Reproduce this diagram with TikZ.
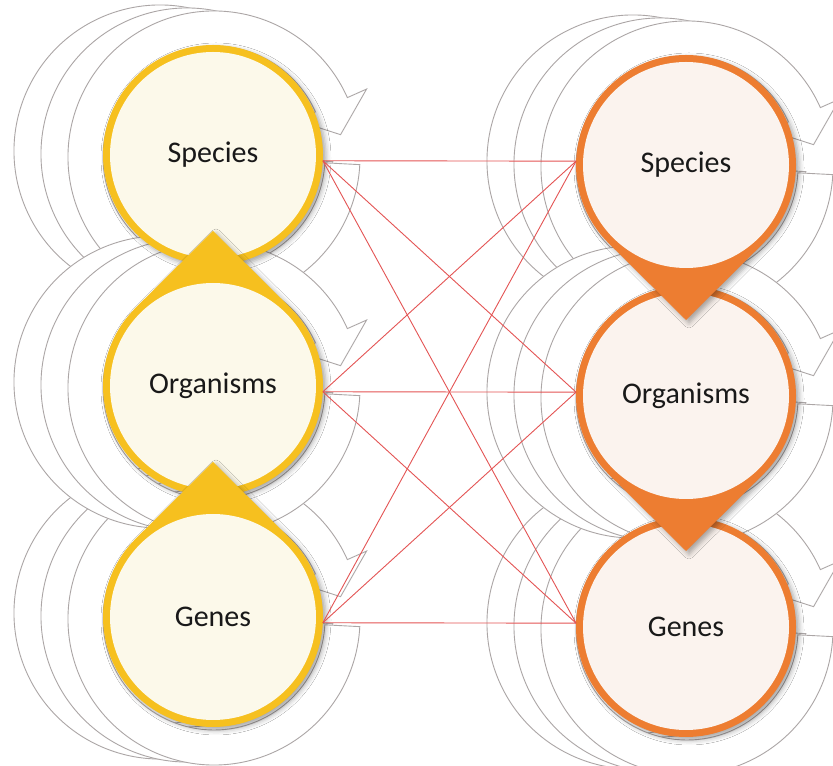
\documentclass[tikz,border=0pt]{standalone}
\usepackage{fontspec}
\setmainfont{Carlito}
\usetikzlibrary{calc,shadows.blur}
\definecolor{gold}{RGB}{246,192,31}
\definecolor{cream}{RGB}{252,249,234}
\definecolor{orng}{RGB}{237,125,49}
\definecolor{peach}{RGB}{251,243,238}
\definecolor{arrgray}{RGB}{172,166,166}
\definecolor{linkred}{RGB}{228,84,84}
\tikzset{
  cyclearrow/.style={draw=arrgray, fill=white, line width=0.9pt, line join=miter},
  dropshadow/.style={blur shadow={shadow xshift=3pt, shadow yshift=-3pt, shadow blur radius=5pt, shadow opacity=35}},
  nodetext/.style={circle, minimum size=220pt, inner sep=0pt, outer sep=0pt, font=\fontsize{30}{35}\selectfont, text=black!90},
  link/.style={draw=linkred, line width=0.9pt},
}
% one circular arrow, centre (#1,#2)
\newcommand\cyc[2]{%
  \draw[cyclearrow] ($(#1,#2)+(24:146)$) arc[start angle=24,end angle=357,radius=146pt]
    -- ($(#1,#2)+(357:111)$) arc[start angle=357,end angle=24,radius=111pt]
    -- ($(#1,#2)+(24:90)$) -- ($(#1,#2)+(10:128.5)$) -- ($(#1,#2)+(24:167)$) -- cycle;}
% three stacked circular arrows around a node centre (#1,#2)
\newcommand\cycset[2]{%
  \cyc{#1-53}{#2+4}\cyc{#1-26}{#2+1}\cyc{#1+1}{#2-2}}
% teardrop: centre (#1,#2), apex direction #3, border colour #4, fill #5
\newcommand\tear[5]{%
  \fill[#4, dropshadow] ($(#1,#2)+(#3+45:110)$) -- ($(#1,#2)+(#3:155)$) -- ($(#1,#2)+(#3-45:110)$)
    arc[start angle=#3-45, end angle=#3+45-360, radius=110pt] -- cycle;
  \fill[#5] (#1,#2) circle[radius=103pt];}
% plain ring: centre (#1,#2), border colour #3, fill #4
\newcommand\ring[4]{%
  \fill[#3, dropshadow] (#1,#2) circle[radius=110pt];
  \fill[#4] (#1,#2) circle[radius=103pt];}
\begin{document}
\begin{tikzpicture}[x=1pt,y=1pt]
\path[use as bounding box] (0,0) rectangle (833,766);
\clip (0,0) rectangle (833,766);
\fill[white] (0,0) rectangle (833,766);
% circular arrows
\cycset{213}{611}
\cycset{213}{149}
\cycset{213}{380}
\cycset{686}{601}
\cycset{686}{139}
\cycset{686}{370}
% left column (apex up)
\ring{213}{611}{gold}{cream}
\tear{213}{380}{90}{gold}{cream}
\tear{213}{149}{90}{gold}{cream}
% right column (apex down)
\ring{686}{139}{orng}{peach}
\tear{686}{370}{270}{orng}{peach}
\tear{686}{601}{270}{orng}{peach}
% labels
\node[nodetext] (lS) at (213,611) {Species};
\node[nodetext] (lO) at (213,380) {Organisms};
\node[nodetext] (lG) at (213,149) {Genes};
\node[nodetext] (rS) at (686,601) {Species};
\node[nodetext] (rO) at (686,370) {Organisms};
\node[nodetext] (rG) at (686,139) {Genes};
% links
\foreach \a in {lS,lO,lG}{
  \foreach \b in {rS,rO,rG}{
    \draw[link] (\a.357) -- (\b.178);
  }
}
\end{tikzpicture}
\end{document}
